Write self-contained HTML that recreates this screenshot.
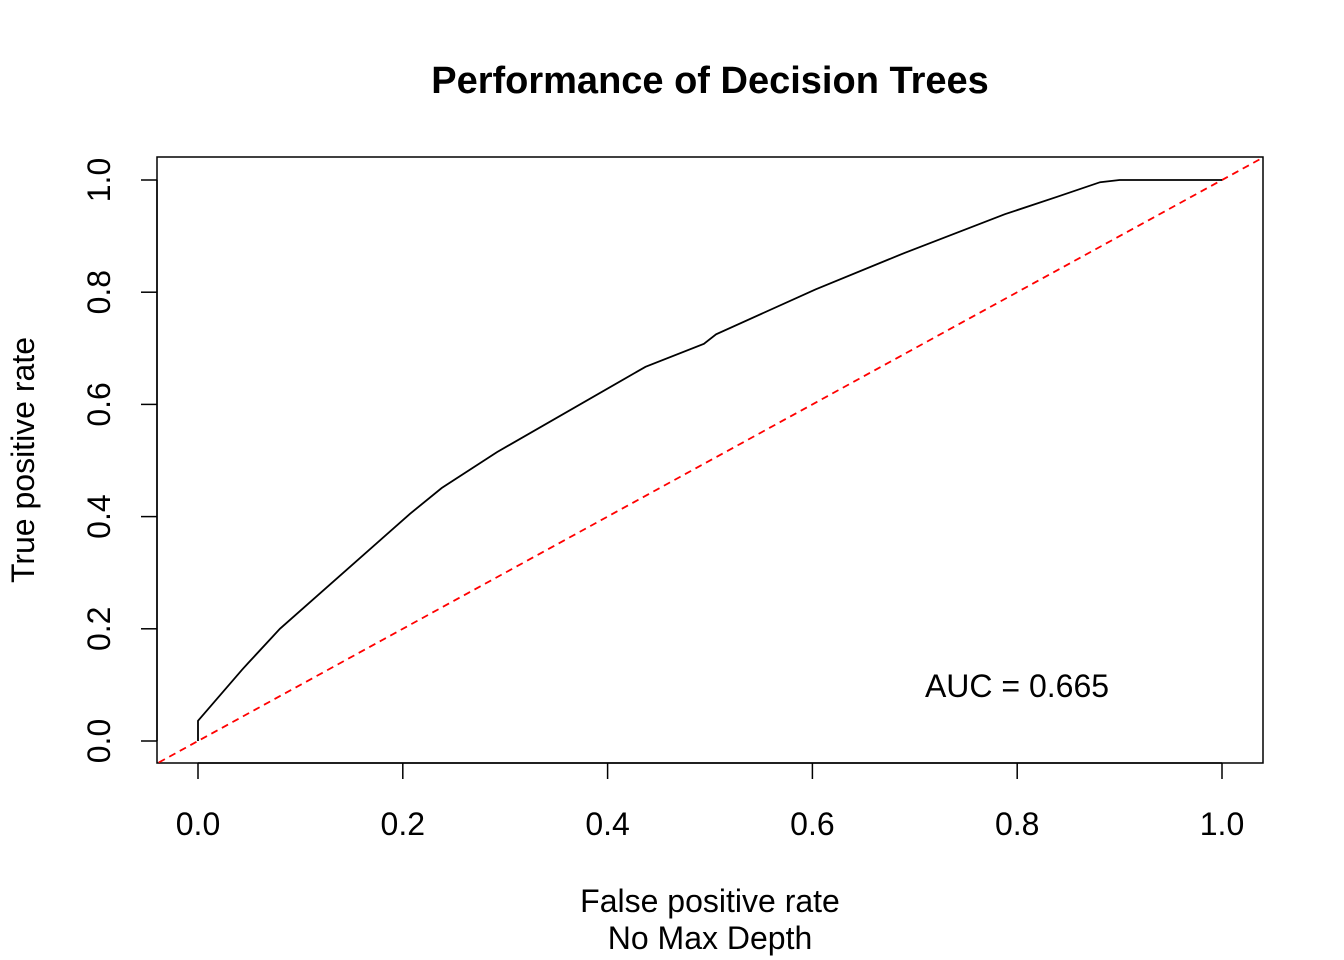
<!DOCTYPE html>
<html><head><meta charset="utf-8"><style>
html,body{margin:0;padding:0;background:#fff;}
svg{display:block;font-family:"Liberation Sans",Arial,sans-serif;}
</style></head><body>
<svg id="chart" width="1344" height="960" viewBox="0 0 1344 960" xmlns="http://www.w3.org/2000/svg">
<text x="710" y="93" text-anchor="middle" font-size="38" font-weight="bold">Performance of Decision Trees</text>
<rect x="157" y="157" width="1106" height="606" fill="none" stroke="#000" stroke-width="1.5"/>
<text x="710" y="912" text-anchor="middle" font-size="32">False positive rate</text>
<text x="710" y="949" text-anchor="middle" font-size="32">No Max Depth</text>
<text transform="translate(34,460) rotate(-90)" text-anchor="middle" font-size="32">True positive rate</text>
<text x="1017" y="697" text-anchor="middle" font-size="32">AUC = 0.665</text>
<g id="axes"></g>
<g id="marks"></g>
</svg>
<script>
const xTicks = [0, 0.2, 0.4, 0.6, 0.8, 1.0];
const yTicks = [0, 0.2, 0.4, 0.6, 0.8, 1.0];
const xTickLabels = ["0.0","0.2","0.4","0.6","0.8","1.0"];
const yTickLabels = ["0.0","0.2","0.4","0.6","0.8","1.0"];
const fpr = [0, 0, 0.043, 0.049, 0.080, 0.207, 0.238, 0.292, 0.437, 0.494, 0.506, 0.603, 0.690, 0.788, 0.839, 0.881, 0.900, 1.0];
const tpr = [0, 0.036, 0.127, 0.139, 0.200, 0.405, 0.451, 0.515, 0.667, 0.708, 0.725, 0.805, 0.870, 0.939, 0.970, 0.996, 1.0, 1.0];

const NS = "http://www.w3.org/2000/svg";
const X = v => 198 + v * 1024;
const Y = v => 741 - v * 561;
const axes = document.getElementById('axes');
const marks = document.getElementById('marks');
function mk(tag, attrs, parent){ const e=document.createElementNS(NS,tag); for(const k in attrs) e.setAttribute(k,attrs[k]); parent.appendChild(e); return e; }

mk('line',{x1:X(xTicks[0]),x2:X(xTicks[xTicks.length-1]),y1:763,y2:763,stroke:'#000','stroke-width':1.5},axes);
xTicks.forEach((t,i)=>{
  const l = mk('line',{x1:X(t),x2:X(t),y1:763,y2:779,stroke:'#000','stroke-width':1.5},axes);
  
  
  const tx = mk('text',{x:X(t),y:835,'text-anchor':'middle','font-size':32},axes);
  tx.textContent = xTickLabels[i];
  
  
});
mk('line',{x1:157,x2:157,y1:Y(yTicks[0]),y2:Y(yTicks[yTicks.length-1]),stroke:'#000','stroke-width':1.5},axes);
yTicks.forEach((t,i)=>{
  const l = mk('line',{x1:141,x2:157,y1:Y(t),y2:Y(t),stroke:'#000','stroke-width':1.5},axes);
  
  
  const tx = mk('text',{transform:`translate(110,${Y(t)}) rotate(-90)`,'text-anchor':'middle','font-size':32},axes);
  tx.textContent = yTickLabels[i];
  
  
});

const clip = mk('clipPath',{id:'pc'},marks);
mk('rect',{x:157,y:157,width:1106,height:606},clip);
const diag = mk('line',{x1:X(-0.1),y1:Y(-0.1),x2:X(1.1),y2:Y(1.1),stroke:'#ff0000','stroke-width':1.8,'stroke-dasharray':'7,5','clip-path':'url(#pc)'},marks);



const pts = fpr.map((f,i)=>X(f).toFixed(1)+','+Y(tpr[i]).toFixed(1)).join(' ');
const roc = mk('polyline',{points:pts,fill:'none',stroke:'#000','stroke-width':1.8},marks);


</script>
</body></html>
